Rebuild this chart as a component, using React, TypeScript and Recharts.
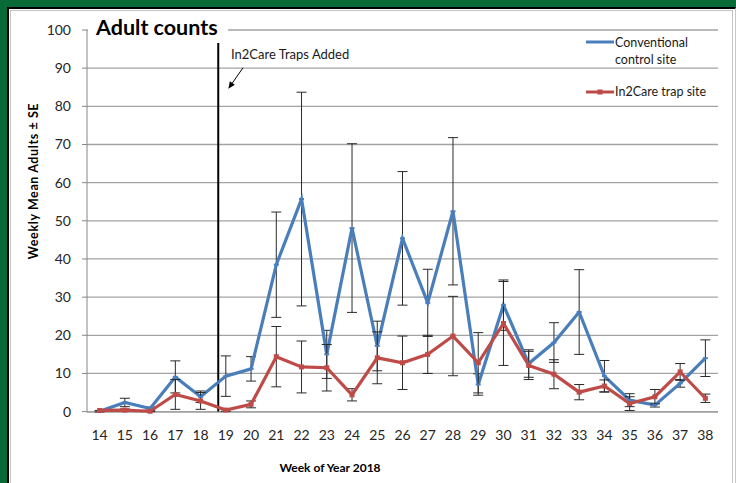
import React from 'react';
import { LineChart, Line, XAxis, YAxis, CartesianGrid, ErrorBar, ReferenceLine } from 'recharts';

const WEEKS = [14, 15, 16, 17, 18, 19, 20, 21, 22, 23, 24, 25, 26, 27, 28, 29, 30, 31, 32, 33, 34, 35, 36, 37, 38];
const CONVENTIONAL = [0.1, 2.4, 0.8, 9.1, 3.9, 9.3, 11.2, 38.5, 55.7, 15.0, 48.1, 17.2, 45.4, 28.5, 52.5, 7.1, 27.9, 12.6, 18.1, 26.1, 9.3, 3.0, 1.7, 7.4, 14.0];
const CONVENTIONAL_SE = [0.2, 1.1, 0.4, 4.2, 1.5, 5.3, 3.2, 13.8, 28.0, 6.3, 22.1, 6.5, 17.5, 8.8, 19.3, 2.8, 6.6, 3.6, 5.2, 11.1, 4.1, 1.7, 0.5, 1.0, 4.8];
const IN2CARE = [0.3, 0.4, 0.1, 4.5, 2.8, 0.4, 1.9, 14.4, 11.7, 11.5, 4.4, 14.1, 12.8, 15.0, 19.8, 12.8, 23.1, 12.1, 9.8, 5.1, 6.7, 2.1, 3.9, 10.4, 3.5];
const IN2CARE_SE = [0, 0.3, 0.1, 3.9, 2.2, 0.3, 0.9, 7.9, 6.8, 6.1, 1.6, 6.8, 7.0, 5.0, 10.4, 7.9, 11.0, 3.7, 3.8, 2.0, 1.6, 1.8, 1.9, 2.2, 1.1];
const Y_TICKS = [0, 10, 20, 30, 40, 50, 60, 70, 80, 90, 100];

// traps went in part way through week 18/19
const TRAPS_ADDED_WEEK = 18.7;
const ARROW_FROM = { x: 19.68, y: 90.1 };
const ARROW_TO = { x: 19.1, y: 84.6 };

const WEEK_BOUNDS = WEEKS.map((w) => w - 0.5).concat(WEEKS[WEEKS.length - 1] + 0.5);
const X_DOMAIN: [number, number] = [WEEK_BOUNDS[0], WEEK_BOUNDS[WEEK_BOUNDS.length - 1]];

const data = WEEKS.map((week, i) => ({
  week,
  conventional: CONVENTIONAL[i],
  conventionalSe: CONVENTIONAL_SE[i],
  in2care: IN2CARE[i],
  in2careSe: IN2CARE_SE[i],
}));

const BLUE = '#4a7ebb';
const RED = '#be4b48';
const AXIS = '#868686';
const FONT = 'Lato, "Open Sans", sans-serif';

const BlueDot = (p: any) => <rect key={p.index} x={p.cx - 2.5} y={p.cy - 1} width={5} height={2} fill={BLUE} />;
const RedDot = (p: any) => <rect key={p.index} x={p.cx - 2.5} y={p.cy - 2.5} width={5} height={5} fill={RED} />;

const Arrow = (p: any) => {
  const { x1, y1, x2, y2 } = p;
  const a = Math.atan2(y2 - y1, x2 - x1);
  const bx = x2 - 7 * Math.cos(a);
  const by = y2 - 7 * Math.sin(a);
  const px = -Math.sin(a) * 3;
  const py = Math.cos(a) * 3;
  return (
    <g>
      <line x1={x1} y1={y1} x2={bx} y2={by} stroke="#000" strokeWidth={1} />
      <polygon points={`${x2},${y2} ${bx + px},${by + py} ${bx - px},${by - py}`} fill="#000" />
    </g>
  );
};

const App = () => {
  return (
    <div style={{ position: 'absolute', left: 0, top: 0, width: 736, height: 483, overflow: 'hidden', background: '#086a37', fontFamily: FONT }}>
      <div style={{ position: 'absolute', left: 7, top: 7, width: 729, height: 476, boxSizing: 'border-box', borderLeft: '2px solid #000', borderTop: '2px solid #000', borderRight: '1px solid #c8c8c8', background: '#fff' }} />
      <div style={{ position: 'absolute', left: 10, top: 10, width: 723, height: 480, boxSizing: 'border-box', border: '1px solid #c4c4c4' }} />
      <div style={{ position: 'absolute', left: 0, top: 0 }}>
        <LineChart width={736} height={483} data={data} margin={{ top: 30, right: 18, left: 0, bottom: 41 }}>
          <CartesianGrid vertical={false} stroke="#a3a3a3" strokeWidth={1.3} />
          <XAxis
            xAxisId="marks"
            dataKey="week"
            type="number"
            domain={X_DOMAIN}
            ticks={WEEK_BOUNDS}
            height={0}
            tick={() => <g />}
            tickSize={5}
            stroke={AXIS}
            allowDataOverflow
          />
          <XAxis
            dataKey="week"
            type="number"
            domain={X_DOMAIN}
            ticks={WEEKS}
            interval={0}
            height={30}
            axisLine={false}
            tickLine={false}
            tickSize={6}
            tickMargin={12}
            tick={{ fill: '#262626', fontSize: 14, fontFamily: FONT }}
            allowDataOverflow
          />
          <YAxis
            width={87}
            domain={[0, 100]}
            ticks={Y_TICKS}
            interval={0}
            tickSize={5}
            tickMargin={11}
            stroke={AXIS}
            tick={{ fill: '#262626', fontSize: 14, fontFamily: FONT }}
          />
          <ReferenceLine
            segment={[{ x: TRAPS_ADDED_WEEK, y: 0 }, { x: TRAPS_ADDED_WEEK, y: 96.6 }]}
            stroke="#000"
            strokeWidth={2}
          />
          <ReferenceLine segment={[ARROW_FROM, ARROW_TO]} shape={Arrow} />
          <Line
            dataKey="conventional"
            stroke={BLUE}
            strokeWidth={3.2}
            dot={BlueDot}
            activeDot={false}
            isAnimationActive={false}
          >
            <ErrorBar dataKey="conventionalSe" width={5} stroke="#2a2a2a" strokeWidth={1} direction="y" isAnimationActive={false} />
          </Line>
          <Line
            dataKey="in2care"
            stroke={RED}
            strokeWidth={3.2}
            dot={RedDot}
            activeDot={false}
            isAnimationActive={false}
          >
            <ErrorBar dataKey="in2careSe" width={5} stroke="#2a2a2a" strokeWidth={1} direction="y" isAnimationActive={false} />
          </Line>
        </LineChart>
      </div>
      <svg width={736} height={483} style={{ position: 'absolute', left: 0, top: 0, pointerEvents: 'none' }} fontFamily={FONT}>
        <rect x={88} y={19} width={140} height={22} fill="#fff" />
        <text x={96} y={35} fontSize={21.5} fontWeight="bold" fill="#000">Adult counts</text>
        <text x={231} y={59} fontSize={13} fill="#1a1a1a">In2Care Traps Added</text>
        <text x={38} y={181} fontSize={12.5} fontWeight="bold" fill="#000" textAnchor="middle" letterSpacing={0.6} transform="rotate(-90 38 181)">
          Weekly Mean Adults ± SE
        </text>
        <text x={330} y={472} fontSize={12} fontWeight="bold" fill="#000" textAnchor="middle">Week of Year 2018</text>
        <line x1={586} y1={42} x2={614} y2={42} stroke={BLUE} strokeWidth={3} />
        <rect x={598} y={41} width={4} height={2} fill={BLUE} />
        <text x={615} y={47} fontSize={12.5} fill="#1a1a1a">Conventional</text>
        <text x={615} y={64} fontSize={12.5} fill="#1a1a1a">control site</text>
        <line x1={586} y1={92} x2={614} y2={92} stroke={RED} strokeWidth={3} />
        <rect x={597.5} y={89.5} width={5} height={5} fill={RED} />
        <text x={615} y={96} fontSize={12.5} fill="#1a1a1a">In2Care trap site</text>
      </svg>
    </div>
  );
};

export default App;
